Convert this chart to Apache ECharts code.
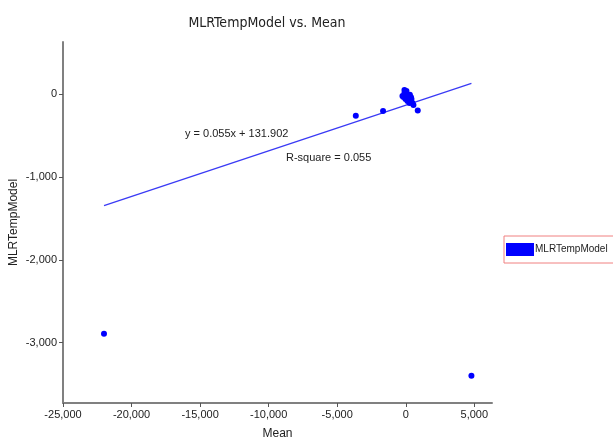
<!DOCTYPE html>
<html>
<head>
<meta charset="utf-8">
<script src="https://cdn.jsdelivr.net/npm/echarts@6/dist/echarts.min.js"></script>
<style>
  html, body { margin: 0; padding: 0; background: #fff; }
  #chart { width: 613px; height: 446px; }
</style>
</head>
<body>
<div id="chart"></div>
<script>
// points: [Mean, MLRTempModel]
const meanValues = [-22010, -3644, -1656, 875, 4789,
  -95, 51, 124, 270, 416, -168, -22, 197, 343, 489, 562, 270, 124, -22, 51, -95, -241, 300, 380];
const modelValues = [-2892, -261, -205, -200, -3398,
  12, 0, -24, -36, -60, -36, -60, -72, -84, -108, -133, -108, -84, -24, 36, 48, -24, -10, -40];

// fitted line end points as drawn
const fitX = [-22010, 4789];
const fitY = [-1346, 129];

const xTicks = [-25000, -20000, -15000, -10000, -5000, 0, 5000];
const yTicks = [-3000, -2000, -1000, 0];

const fmt = (v) => v.toLocaleString('en-US');

const chart = echarts.init(document.getElementById('chart'));
const font = 'Liberation Sans, Arial, sans-serif';
const narrow = 'DejaVu Sans Condensed, Arial, sans-serif';

const option = {
  animation: false,
  title: {
    text: 'MLRTempModel vs. Mean',
    left: 262,
    textAlign: 'center',
    top: 11,
    textStyle: { fontFamily: narrow, fontSize: 14, fontWeight: 'normal', color: '#222' }
  },
  legend: {
    left: 504,
    top: 236,
    orient: 'vertical',
    data: [{ name: 'MLRTempModel', icon: 'rect' }],
    itemWidth: 28,
    itemHeight: 13,
    itemGap: 0,
    padding: [7, 20, 7, 2],
    borderColor: '#f08080',
    borderWidth: 1,
    textStyle: { fontFamily: font, fontSize: 10, color: '#222', padding: [0, 0, 0, -4] }
  },
  grid: { left: 63, right: 121, top: 42, bottom: 43, outerBoundsMode: 'none', containLabel: false },
  xAxis: {
    type: 'value',
    min: -25000,
    max: 6290,
    name: 'Mean',
    nameLocation: 'middle',
    nameGap: 25,
    nameMoveOverlap: false,
    nameTextStyle: { fontFamily: font, fontSize: 12, color: '#222' },
    axisLine: { show: true, onZero: false, lineStyle: { color: '#808080', width: 2 } },
    axisTick: { show: true, length: 4, inside: false, customValues: xTicks, lineStyle: { color: '#555' } },
    axisLabel: { customValues: xTicks, formatter: fmt, fontFamily: font, fontSize: 11, color: '#222', margin: 6 },
    splitLine: { show: false }
  },
  yAxis: {
    type: 'value',
    min: -3727,
    max: 627,
    name: 'MLRTempModel',
    nameLocation: 'middle',
    nameGap: 43,
    nameMoveOverlap: false,
    nameTextStyle: { fontFamily: font, fontSize: 12, color: '#222' },
    axisLine: { show: true, onZero: false, lineStyle: { color: '#808080', width: 2 } },
    axisTick: { show: true, length: 4, customValues: yTicks, lineStyle: { color: '#555' } },
    axisLabel: { customValues: yTicks, formatter: fmt, fontFamily: font, fontSize: 11, color: '#222', margin: 6 },
    splitLine: { show: false }
  },
  graphic: [
    { type: 'text', left: 185, top: 128, style: { text: 'y = 0.055x + 131.902', font: '11px ' + font, fill: '#222' } },
    { type: 'text', left: 286, top: 152, style: { text: 'R-square = 0.055', font: '11px ' + font, fill: '#222' } }
  ],
  series: [
    {
      name: 'MLRTempModel',
      type: 'scatter',
      symbol: 'circle',
      symbolSize: 6,
      itemStyle: { color: '#0000ff', opacity: 1 },
      data: meanValues.map((x, i) => [x, modelValues[i]]),
      z: 3
    },
    {
      name: 'fit',
      type: 'line',
      showSymbol: false,
      symbol: 'none',
      lineStyle: { color: '#3a3af5', width: 1.3 },
      data: fitX.map((x, i) => [x, fitY[i]]),
      z: 2
    }
  ]
};

chart.setOption(option);
</script>
</body>
</html>
